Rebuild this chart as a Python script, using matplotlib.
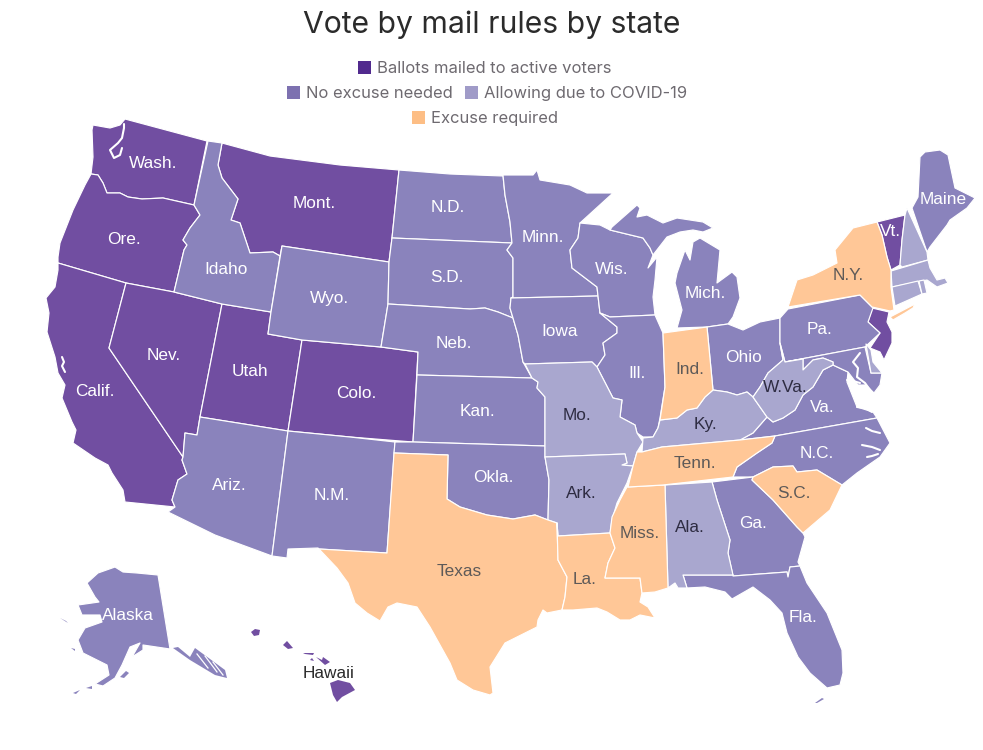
import matplotlib
matplotlib.use('Agg')
import matplotlib.pyplot as plt
from matplotlib.patches import Polygon, Rectangle

# outlines, in image pixels
WA = [(93,125),(110,128),(120,125),(125,119),(207,141),(194,205),(163,198),(142,199),(128,197),(120,193),(107,193),(103,183),(98,175),(91,174),(93,157),(92,130)]
OR = [(91,174),(98,175),(103,183),(107,193),(120,193),(128,197),(142,199),(163,198),(194,205),(200,215),(190,228),(183,240),(187,245),(184,250),(174,292),(126,283),(58,263),(58,257),(60,243),(73,210),(85,185)]
CA = [(58,263),(126,283),(109,348),(183,457),(182,460),(187,474),(178,480),(172,500),(175,507),(125,502),(123,490),(112,473),(108,465),(95,458),(73,443),(76,430),(72,422),(62,398),(65,385),(58,373),(55,357),(47,332),(49,313),(46,298),(55,287),(58,270)]
NV = [(126,283),(174,292),(222,304),(200,417),(197,435),(185,433),(183,457),(109,348)]
ID = [(208,141),(222,143),(218,165),(222,178),(238,199),(231,220),(240,223),(250,253),(273,252),(280,256),(271,312),(222,304),(174,292),(184,250),(187,245),(183,240),(190,228),(200,215),(194,205)]
MT = [(222,143),(270,156),(340,165),(399,170),(392,238),(389,262),(282,246),(280,256),(273,252),(250,253),(240,223),(231,220),(238,199),(222,178),(218,165)]
WY = [(282,246),(389,262),(388,304),(381,347),(302,340),(268,334),(271,312)]
UT = [(222,304),(271,312),(268,334),(302,340),(288,431),(200,417)]
CO = [(302,340),(381,347),(418,352),(413,442),(350,437),(288,431)]
AZ = [(200,417),(288,431),(272,556),(215,535),(168,512),(175,507),(172,500),(178,480),(187,474),(182,460),(183,457),(185,433),(197,435)]
NM = [(288,431),(350,437),(395,442),(387,553),(319,549),(318,548),(288,549),(287,558),(272,556)]
ND = [(399,170),(450,174),(503,176),(505,195),(510,222),(512,243),(392,238)]
SD = [(392,238),(512,243),(507,250),(513,258),(513,297),(511,298),(510,308),(513,318),(498,312),(485,308),(470,309),(388,304),(389,262)]
NE = [(388,304),(470,309),(485,308),(498,312),(513,318),(518,335),(523,362),(532,378),(417,375),(418,352),(381,347)]
KS = [(417,375),(532,378),(538,382),(537,388),(545,397),(545,446),(413,442)]
OK = [(395,442),(413,442),(545,446),(545,457),(549,480),(548,520),(535,515),(513,519),(487,515),(460,507),(447,499),(448,455),(394,453)]
TX = [(394,453),(448,455),(447,499),(460,507),(487,515),(513,519),(535,515),(548,520),(557,523),(558,560),(567,577),(565,597),(562,610),(547,613),(543,610),(538,620),(537,627),(505,643),(490,667),(493,693),(490,695),(473,690),(457,680),(450,663),(430,627),(417,607),(397,603),(388,607),(380,621),(367,613),(355,603),(348,583),(337,568),(319,549),(387,553)]
MN = [(503,175),(533,175),(537,170),(540,180),(570,185),(587,193),(613,193),(580,223),(578,238),(570,250),(572,268),(597,287),(598,296),(511,298),(513,297),(513,258),(507,250),(512,243),(510,222),(505,195)]
IA = [(511,298),(598,296),(600,313),(617,327),(617,333),(603,343),(605,355),(597,367),(592,362),(525,364),(523,362),(518,335),(513,318),(510,308)]
MO = [(525,364),(592,362),(597,367),(613,398),(622,400),(620,417),(635,425),(637,433),(643,442),(637,452),(633,466),(622,465),(627,463),(625,454),(545,457),(545,397),(537,388),(538,382),(532,378)]
AR = [(545,457),(625,454),(627,463),(622,465),(633,466),(627,483),(617,503),(612,520),(610,533),(558,536),(557,523),(548,520),(549,480)]
LA = [(557,523),(558,536),(610,533),(615,548),(608,563),(605,578),(640,578),(642,593),(640,602),(648,607),(655,618),(640,615),(630,620),(620,620),(607,612),(597,608),(573,610),(562,610),(565,597),(567,577),(558,560)]
WI = [(580,223),(600,225),(610,230),(643,238),(650,248),(653,255),(648,268),(657,257),(655,280),(653,297),(655,315),(610,317),(600,313),(598,296),(597,287),(572,268),(570,250),(578,238)]
MI_LOWER = [(677,328),(707,327),(728,324),(733,317),(740,298),(737,277),(732,272),(717,283),(720,250),(700,238),(693,242),(690,260),(685,250),(677,273),(675,283),(682,310)]
MI_UPPER = [(612,227),(637,205),(640,208),(637,217),(647,215),(663,223),(677,218),(703,222),(713,228),(703,232),(693,230),(680,232),(667,237),(653,255),(650,248),(643,238),(610,230)]
IL = [(610,317),(655,315),(663,333),(665,387),(660,418),(658,428),(653,437),(643,437),(637,433),(635,425),(620,417),(622,400),(613,398),(597,367),(605,355),(603,343),(617,333),(617,327),(600,313)]
IN = [(663,333),(707,327),(713,390),(705,397),(697,408),(687,410),(677,418),(660,420),(665,387)]
OH = [(707,327),(728,324),(743,330),(760,322),(780,318),(780,343),(783,360),(768,373),(760,387),(753,397),(747,392),(737,395),(727,392),(713,390)]
KY = [(713,390),(727,392),(737,395),(747,392),(753,397),(767,417),(753,433),(740,440),(662,447),(642,452),(643,438),(653,437),(658,428),(660,420),(677,418),(687,410),(697,408),(705,397)]
TN = [(642,452),(662,447),(740,440),(775,436),(772,443),(757,453),(737,467),(733,477),(663,485),(628,487),(633,466),(637,452)]
MS = [(627,487),(665,485),(668,588),(655,592),(642,593),(640,578),(605,578),(608,563),(615,548),(610,533),(612,517),(620,500)]
AL = [(665,485),(712,482),(717,500),(730,540),(728,553),(733,575),(683,575),(687,588),(678,588),(675,583),(668,588)]
GA = [(712,482),(753,477),(752,480),(773,500),(797,527),(803,533),(805,537),(798,562),(800,566),(790,567),(788,577),(787,572),(733,576),(728,553),(730,540),(717,500)]
FL = [(683,575),(733,575),(733,576),(787,572),(788,577),(790,567),(800,566),(807,583),(827,613),(842,650),(843,673),(840,685),(827,688),(810,673),(798,657),(787,633),(782,613),(770,600),(753,587),(732,599),(725,592),(705,587),(687,588)]
SC = [(753,477),(773,467),(793,466),(797,472),(817,470),(842,485),(830,510),(803,533),(797,527),(773,500),(752,480)]
NC = [(775,436),(877,418),(890,443),(880,457),(857,473),(842,485),(817,470),(797,472),(793,466),(773,467),(753,477),(733,477),(737,467),(757,453),(772,443)]
VA = [(767,417),(773,422),(783,418),(795,410),(803,395),(813,387),(823,370),(833,365),(848,372),(847,382),(857,407),(873,412),(877,418),(775,436),(740,440),(753,433)]
WV = [(780,343),(785,362),(803,359),(803,370),(813,360),(823,358),(833,362),(833,365),(823,370),(813,387),(803,395),(795,410),(783,418),(773,422),(767,417),(753,397),(760,387),(768,373),(783,360)]
MD = [(785,362),(865,347),(871,373),(882,373),(880,385),(874,393),(866,385),(858,385),(848,372),(833,365),(833,362),(823,358),(813,360),(803,370),(803,359)]
DE = [(866,344),(871,350),(873,362),(882,373),(871,373)]
PA = [(780,318),(788,309),(860,295),(873,308),(868,322),(880,333),(865,347),(785,362),(780,343)]
NJ = [(872,308),(889,312),(887,322),(892,332),(892,343),(884,360),(880,352),(870,348),(880,333),(868,322)]
NY = [(788,307),(797,280),(813,275),(837,263),(835,250),(853,228),(877,222),(882,235),(887,257),(891,270),(891,287),(894,310),(890,311),(872,307),(860,295)]
LONG_ISLAND = [(890,317),(915,304),(913,308),(905,313),(893,320)]
VT = [(877,222),(905,215),(902,240),(900,265),(891,270),(887,257),(882,235)]
NH = [(907,208),(927,252),(928,260),(902,267),(900,265),(902,240),(905,215)]
ME = [(912,208),(918,197),(920,157),(925,152),(940,150),(948,155),(955,188),(975,198),(967,208),(950,220),(947,225),(930,247),(927,252)]
MA = [(891,271),(928,260),(930,268),(937,280),(945,278),(948,283),(937,287),(927,280),(892,287)]
CT = [(892,287),(918,281),(922,294),(895,306)]
RI = [(919,281),(924,280),(927,293),(922,294)]
AK = [(115,567),(98,573),(87,583),(95,597),(99,602),(78,605),(82,615),(100,615),(102,622),(85,628),(78,640),(83,653),(107,665),(109,675),(95,684),(103,686),(115,678),(122,665),(130,647),(140,643),(132,657),(143,650),(143,645),(170,649),(158,575),(137,573),(123,572)]
AK_PANHANDLE = [(173,648),(178,647),(190,657),(195,648),(225,670),(227,678),(215,675),(190,660)]
AK_KODIAK = [(120,677),(126,671),(129,673),(124,678)]
AK_NUNIVAK = [(71,648),(75,649),(75,651)]
AK_STLAWRENCE = [(60,618),(66,621),(68,623)]
AK_ALEUT1 = [(86,688),(92,686),(92,689)]
AK_ALEUT2 = [(73,693),(80,690),(76,694)]
HI_BIG = [(330,683),(338,680),(350,683),(355,690),(342,697),(337,702),(333,695)]
HI_MAUI = [(316,657),(322,660),(323,657),(330,662),(325,665)]
HI_MOLOKAI = [(303,653),(314,653),(313,655),(305,654)]
HI_LANAI = [(310,660),(312,658),(314,661)]
HI_OAHU = [(283,645),(287,641),(293,648),(288,649)]
HI_KAUAI = [(251,632),(255,629),(260,630),(259,635),(254,636)]
FL_KEYS = [(815,703),(822,698),(824,699),(817,703)]

# water cut out of the land
PUGET = [(124,124),(124,128),(122,138),(118,143),(110,150),(114,158),(120,155),(122,148)]
SF_BAY = [(62,357),(64,362),(62,366),(65,372)]
CHESAPEAKE = [(860,353),(853,362),(858,368),(857,377),(865,383),(870,390),(873,397),(875,405)]
POTOMAC = [(847,380),(853,381),(860,383)]
RAPPAHANNOCK = [(853,390),(860,395),(868,402)]
JAMES = [(857,407),(865,408),(872,412)]
ALBEMARLE = [(866,428),(872,431),(880,433)]
PAMLICO = [(862,445),(872,447),(880,450)]
PAMLICO2 = [(867,457),(872,456),(878,454)]
WATER = [PUGET, SF_BAY, CHESAPEAKE, POTOMAC, RAPPAHANNOCK, JAMES, ALBEMARLE, PAMLICO, PAMLICO2]
INLETS = [[(197,654),(208,668)], [(205,656),(217,672)], [(213,662),(223,675)]]

# rule per state
mailed = [WA, OR, CA, NV, MT, UT, CO, VT, NJ]
no_excuse = [ID, WY, AZ, NM, ND, SD, NE, KS, OK, MN, IA, WI, MI_LOWER, MI_UPPER, IL, OH, PA, VA, MD, NC, GA, FL, ME, AK]
covid = [MO, AR, KY, WV, AL, NH, MA, CT, RI, DE]
excuse = [TX, LA, MS, TN, IN, SC, NY, LONG_ISLAND]
# too small to carry a white edge
mailed_small = [HI_BIG, HI_MAUI, HI_MOLOKAI, HI_LANAI, HI_OAHU, HI_KAUAI]
no_excuse_small = [FL_KEYS, AK_PANHANDLE, AK_KODIAK, AK_NUNIVAK, AK_STLAWRENCE, AK_ALEUT1, AK_ALEUT2]

# face colours are paler than the legend swatches in the original
fill_colors = ['#714EA1', '#8A83BC', '#A9A7CF', '#FFC797']
swatch_colors = ['#512A8E', '#7D71B0', '#A09BC8', '#FDBE85']
legend_labels = ['Ballots mailed to active voters', 'No excuse needed', 'Allowing due to COVID-19', 'Excuse required']

WHITE_TXT = '#FFFFFF'
DARK_TXT = '#2E2C42'
GREY_TXT = '#5E5A58'

label_names = ['Wash.', 'Ore.', 'Calif.', 'Nev.', 'Idaho', 'Mont.', 'Wyo.', 'Utah', 'Colo.', 'Ariz.', 'N.M.',
               'N.D.', 'S.D.', 'Neb.', 'Kan.', 'Okla.', 'Minn.', 'Iowa', 'Wis.', 'Ill.', 'Mich.', 'Ohio',
               'Va.', 'N.C.', 'Ga.', 'Fla.', 'Pa.', 'Vt.', 'Maine', 'Alaska',
               'Mo.', 'Ark.', 'Ky.', 'W.Va.', 'Ala.',
               'Texas', 'La.', 'Miss.', 'Tenn.', 'Ind.', 'S.C.', 'N.Y.',
               'Hawaii']
label_x = [153, 124, 95, 164, 226, 314, 329, 250, 356, 229, 332,
           448, 447, 454, 477, 493, 543, 560, 612, 637, 705, 743,
           822, 817, 753, 803, 820, 890, 943, 128,
           577, 581, 705, 785, 690,
           459, 585, 640, 695, 690, 794, 848,
           329]
label_y = [164, 239, 392, 356, 269, 204, 299, 372, 393, 485, 495,
           208, 277, 343, 412, 478, 237, 331, 270, 373, 293, 357,
           407, 453, 523, 618, 330, 232, 199, 615,
           415, 493, 424, 387, 528,
           571, 580, 534, 464, 369, 493, 275,
           674]
label_colors = [WHITE_TXT] * 30 + [DARK_TXT] * 5 + [GREY_TXT] * 7 + ['#2B2B2B']

fig = plt.figure(figsize=(9.83, 7.5), dpi=100)
ax = fig.add_axes([0, 0, 1, 1])
ax.set_xlim(0, 983)
ax.set_ylim(750, 0)
ax.axis('off')

for group, small, color in zip([mailed, no_excuse, covid, excuse], [mailed_small, no_excuse_small, [], []], fill_colors):
    for shape in group:
        ax.add_patch(Polygon(shape, closed=True, facecolor=color, edgecolor='white', linewidth=0.85, joinstyle='round'))
    for shape in small:
        ax.add_patch(Polygon(shape, closed=True, facecolor=color, edgecolor='none'))

for river in WATER:
    ax.plot(*zip(*river), color='white', linewidth=1.5, solid_capstyle='round')
for inlet in INLETS:
    ax.plot(*zip(*inlet), color='white', linewidth=0.9)

for name, x, y, c in zip(label_names, label_x, label_y, label_colors):
    ax.text(x, y, name, color=c, fontsize=12.4, family='Liberation Sans', ha='center', va='center')

ax.text(491.5, 25, 'Vote by mail rules by state', color='#2B2B2B', fontsize=21.7, family='Inter', ha='center', va='center')

# legend rows
swatch_x = [358, 287, 465, 412]
swatch_y = [61, 86, 86, 111]
for c, x, y, t in zip(swatch_colors, swatch_x, swatch_y, legend_labels):
    ax.add_patch(Rectangle((x, y), 13, 13, facecolor=c, edgecolor='none'))
    ax.text(x + 19, y + 7.5, t, color='#6E6A70', fontsize=11.95, family='Inter', ha='left', va='center')

fig.savefig('out.png', dpi=100)
